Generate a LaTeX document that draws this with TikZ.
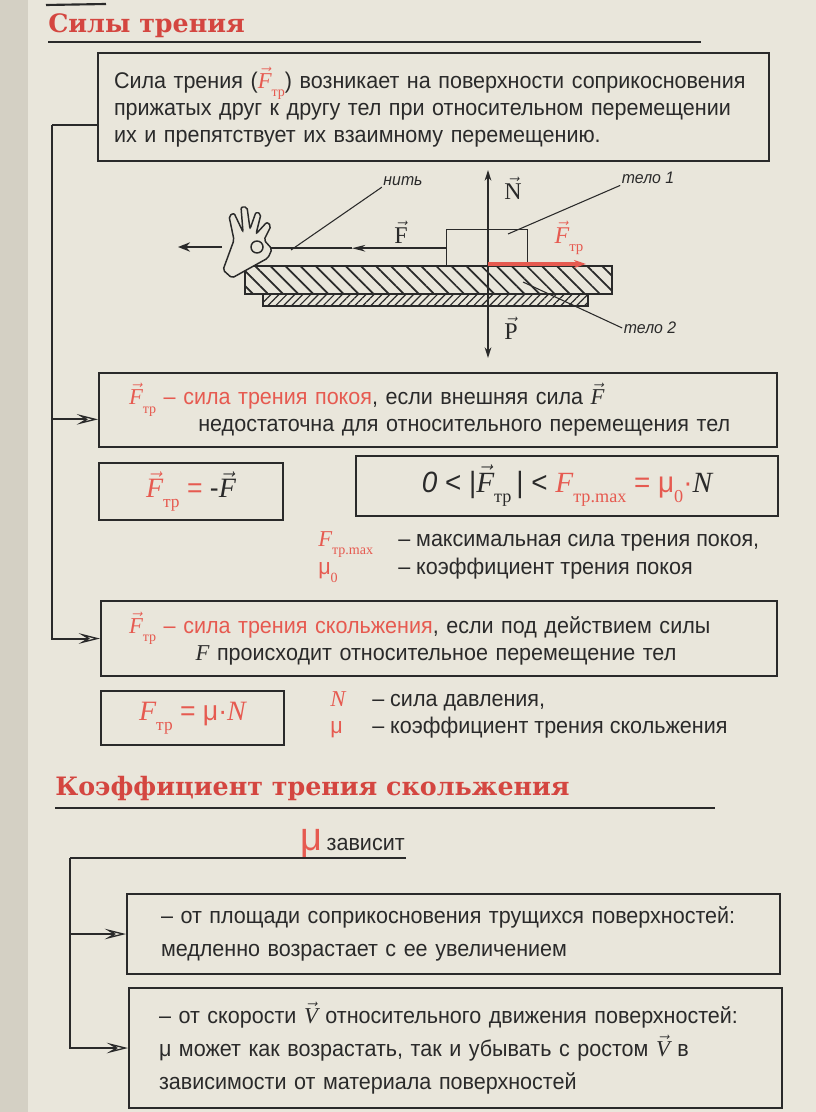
\documentclass[tikz,border=0pt]{standalone}
\usepackage{fontspec}
\setmainfont{Liberation Sans}[FakeStretch=0.95]
\newfontfamily\serifrm{Liberation Serif}
\newfontfamily\headfont{DejaVu Serif}
\usetikzlibrary{arrows.meta,positioning,patterns.meta}

\definecolor{paper}{RGB}{233,230,219}
\definecolor{margin}{RGB}{212,208,196}
\definecolor{ink}{RGB}{42,42,42}
\definecolor{hred}{RGB}{212,70,64}
\definecolor{fred}{RGB}{230,90,80}

\newcommand{\bodysize}{\fontsize{17}{20.25}\selectfont}
\newcommand{\formsize}{\fontsize{21}{21}\selectfont}
\newcommand{\redtxt}[1]{{\color{fred}#1}}
\newcommand{\phys}[1]{{\serifrm\itshape #1}}
\newcommand{\vecsym}[1]{\ensuremath{\vec{\mbox{#1}}}}
\newcommand{\subtr}[1]{\raisebox{-0.7ex}{\serifrm\fontsize{\the\dimexpr 0.62\fontdimen6\font\relax}{0pt}\selectfont #1}}
\newcommand{\Ftr}{\vecsym{\phys{F}}\subtr{тр}}

\begin{document}
\begin{tikzpicture}[x=0.75pt,y=-0.75pt,font=\bodysize,text=ink,
    box/.style={draw=ink,line width=1.5pt,anchor=north west,inner ysep=0pt},
    heading/.style={font={\headfont\bfseries\fontsize{19}{19}\selectfont},text=hred,inner sep=0pt,anchor=base west},
    rule/.style={draw=ink,line width=1.6pt},
    link/.style={draw=ink,line width=1.5pt},
    branch/.style={link,-{Stealth[open,length=16pt,width=8pt,inset=6.5pt,line width=1pt]}},
    force/.style={draw=ink,line width=1.1pt,-{Stealth[length=8pt,width=5pt]}},
    fric/.style={draw=fred,line width=2.4pt,-{Stealth[length=9pt,width=6pt]}},
    pull/.style={draw=ink,line width=2.2pt,-{Stealth[length=9pt,width=7pt]}},
    thread/.style={draw=ink,line width=1.1pt},
    leader/.style={draw=ink,line width=0.8pt},
    tag/.style={font={\itshape\fontsize{12.5}{12.5}\selectfont},inner sep=1pt},
    vlabel/.style={font={\serifrm\fontsize{18}{18}\selectfont},inner sep=1pt},
    legend/.style={anchor=north west,inner sep=0pt}]

  % paper
  \fill[paper] (0,0) rectangle (816,1112);
  \fill[margin] (0,0) rectangle (28,1112);
  \useasboundingbox (0,0) rectangle (816,1112);
  \draw[rule] (46,5) -- (106,4);

  % first section
  \node[heading] (title) at (48,33) {Силы трения};
  \draw[rule] (48,42) -- (701,42);

  \node[box,text width=479.25pt,inner xsep=12pt,minimum height=81pt,align=left] (def) at (97,52)
    {Сила трения (\redtxt{\Ftr}) возникает на поверхности соприкосновения\\
     прижатых друг к другу тел при относительном перемещении\\
     их и препятствует их взаимному перемещению.};

  % the picture
  \draw[draw=ink,line width=1.1pt,pattern={Lines[angle=-45,distance=8pt,line width=1.3pt]},pattern color=ink]
    (245,266) rectangle (612,294);
  \draw[draw=ink,line width=1.1pt,pattern={Lines[angle=45,distance=4.2pt,line width=0.9pt]},pattern color=ink]
    (263,294) rectangle (588,306);
  \node[draw=ink,line width=1.1pt,minimum width=60.75pt,minimum height=27.75pt,anchor=north west,inner sep=0pt] (block) at (446,229) {};

  \coordinate (grip) at (270,0);
  \coordinate (fx) at (352,0);
  \draw[thread,-{Stealth[length=10pt,width=5pt]}] (block.west) -- (block.west -| fx);
  \draw[thread] (block.west -| fx) -- (block.west -| grip);

  \draw[draw=ink,line width=1.1pt,fill=paper,rounded corners=1.5pt]
    (223,270) -- (234,240) -- (229,216) -- (234,213) -- (243,232) -- (241,207) -- (247,207)
    -- (250,229) -- (256,212) -- (261,214) -- (256,234) -- (267,222) -- (271,226)
    -- (264,240) -- (272,249) -- (268,258) -- (232,278) -- cycle;
  \draw[draw=ink,line width=1.1pt] (257,247) circle[radius=6];
  \draw[pull] (222,247) -- (178,247);

  \coordinate (O) at (488,266);
  \coordinate (Ntip) at (488,170);
  \coordinate (Ptip) at (488,358);
  \draw[force] (O) -- (Ntip);
  \draw[force] (O) -- (Ptip);
  \draw[fric] (488,264) -- (586,264);

  \node[vlabel] (lblN) at (513,188) {\vecsym{N}};
  \node[vlabel] (lblP) at (511,328) {\vecsym{P}};
  \node[vlabel] (lblF) at (401,232) {\vecsym{F}};
  \node[vlabel,font={\fontsize{18}{18}\selectfont}] (lblFtr) at (569,238) {\redtxt{\Ftr}};
  \node[tag] (lblthread) at (403,181) {нить};
  \node[tag] (lblbody1) at (648,178) {тело 1};
  \node[tag] (lblbody2) at (650,328) {тело 2};

  \coordinate (knot) at (291,250);
  \coordinate (in1) at (508,234);
  \coordinate (in2) at (523,282);
  \draw[leader] (knot) -- (lblthread.south west);
  \draw[leader] (lblbody1.south west) -- (in1);
  \draw[leader] (lblbody2.west) -- (in2);

  % static and sliding friction
  \node[box,text width=463.5pt,inner xsep=22.5pt,minimum height=55.5pt,align=left] (rest) at (98,372)
    {\redtxt{\Ftr\ – сила трения покоя}, если внешняя сила \vecsym{\phys{F}}\\
     \hspace*{52pt}недостаточна для относительного перемещения тел};
  \node[box,minimum width=138pt,minimum height=42.75pt,font=\formsize,below=10.5pt of rest.south west,anchor=north west] (eq)
    {\redtxt{\Ftr\ =} -\vecsym{\phys{F}}};
  \node[box,minimum width=316.5pt,minimum height=45pt,font={\fontsize{22}{22}\selectfont}] (ineq) at (355,455)
    {{\itshape 0} < |\Ftr\,| < \redtxt{\phys{F}\subtr{тр.max} = μ\subtr{0}·}\phys{N}};
  \node[legend] (legmax) at (318,527)
    {\begin{tabular}{@{}l@{}l@{}}
       \makebox[60pt][l]{\redtxt{\phys{F}\subtr{тр.max}}} & – максимальная сила трения покоя,\\[-1.5pt]
       \makebox[60pt][l]{\redtxt{μ\subtr{0}}} & – коэффициент трения покоя
     \end{tabular}};

  \node[box,text width=465pt,inner xsep=21pt,minimum height=56.25pt,align=left] (slide) at (100,600)
    {\redtxt{\Ftr\ – сила трения скольжения}, если под действием силы\\
     \hspace*{50pt}\phys{F} происходит относительное перемещение тел};
  \node[box,minimum width=137.25pt,minimum height=40.5pt,font=\formsize,below=9.75pt of slide.south west,anchor=north west] (kin)
    {\redtxt{\phys{F}\subtr{тр} = μ·\phys{N}}};
  \node[legend] (legkin) at (330,687)
    {\begin{tabular}{@{}l@{}l@{}}
       \makebox[31.5pt][l]{\redtxt{\phys{N}}} & – сила давления,\\
       \makebox[31.5pt][l]{\redtxt{μ}} & – коэффициент трения скольжения
     \end{tabular}};

  \coordinate (c1) at (52,125);
  \draw[link] (def.west |- c1) -- (c1);
  \draw[branch] (c1) |- (slide.west);
  \draw[branch] (c1) |- ([yshift=-7pt]rest.west);

  % second section
  \node[heading] (title2) at (55,795) {Коэффициент трения скольжения};
  \draw[rule] (55,808) -- (715,808);

  \node[inner sep=0pt,anchor=base west] (mu) at (300,850) {\redtxt{\fontsize{30}{30}\selectfont μ}};
  \node[inner sep=0pt,right=3pt of mu.base east,anchor=base west] (depends) {зависит};

  \node[box,text width=438.75pt,inner xsep=25.5pt,minimum height=60pt,align=left,
        font={\fontsize{17}{24.75}\selectfont}] (area) at (126,893)
    {– от площади соприкосновения трущихся поверхностей:\\
     медленно возрастает с ее увеличением};
  \node[box,text width=444.75pt,inner xsep=22.5pt,minimum height=90pt,align=left,
        font={\fontsize{17}{25}\selectfont}] (speed) at (128,987)
    {– от скорости \vecsym{\phys{V}} относительного движения поверхностей:\\
     μ может как возрастать, так и убывать с ростом \vecsym{\phys{V}} в\\
     зависимости от материала поверхностей};

  \coordinate (k0) at (406,858);
  \coordinate (k1) at (70,858);
  \draw[link] (k0) -- (k1);
  \draw[branch] (k1) |- (area.west);
  \draw[branch] (k1) |- (speed.west);
\end{tikzpicture}
\end{document}
